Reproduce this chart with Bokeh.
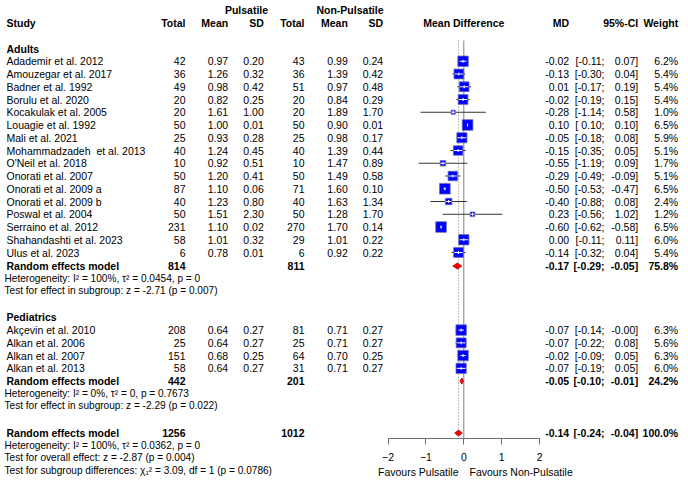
from math import sqrt

from bokeh.plotting import figure
from bokeh.layouts import row, column
from bokeh.models import Range1d, LinearAxis, FixedTicker
from bokeh.core.properties import value
from bokeh.embed import file_html
from bokeh.resources import INLINE

# ---- study data: adults ----
adult_names = ["Adademir et al. 2012", "Amouzegar et al. 2017", "Badner et al. 1992",
               "Borulu et al. 2020", "Kocakulak et al. 2005", "Louagie et al. 1992",
               "Mali et al. 2021", "Mohammadzadeh \u00a0et al. 2013", "O'Neil et al. 2018",
               "Onorati et al. 2007", "Onorati et al. 2009 a", "Onorati et al. 2009 b",
               "Poswal et al. 2004", "Serraino et al. 2012", "Shahandashti et al. 2023",
               "Ulus et al. 2023"]
adult_n_p = [42, 36, 49, 20, 20, 50, 25, 40, 10, 50, 87, 40, 50, 231, 58, 6]
adult_mean_p = [0.97, 1.26, 0.98, 0.82, 1.61, 1.00, 0.93, 1.24, 0.92, 1.20, 1.10, 1.23, 1.51, 1.10, 1.01, 0.78]
adult_sd_p = [0.20, 0.32, 0.42, 0.25, 1.00, 0.01, 0.28, 0.45, 0.51, 0.41, 0.06, 0.80, 2.30, 0.02, 0.32, 0.01]
adult_n_np = [43, 36, 51, 20, 20, 50, 25, 40, 10, 50, 71, 40, 50, 270, 29, 6]
adult_mean_np = [0.99, 1.39, 0.97, 0.84, 1.89, 0.90, 0.98, 1.39, 1.47, 1.49, 1.60, 1.63, 1.28, 1.70, 1.01, 0.92]
adult_sd_np = [0.24, 0.42, 0.48, 0.29, 1.70, 0.01, 0.17, 0.44, 0.89, 0.58, 0.10, 1.34, 1.70, 0.14, 0.22, 0.22]
adult_md = [-0.02, -0.13, 0.01, -0.02, -0.28, 0.10, -0.05, -0.15, -0.55, -0.29, -0.50, -0.40, 0.23, -0.60, 0.00, -0.14]
adult_lo = [-0.11, -0.30, -0.17, -0.19, -1.14, 0.10, -0.18, -0.35, -1.19, -0.49, -0.53, -0.88, -0.56, -0.62, -0.11, -0.32]
adult_hi = [0.07, 0.04, 0.19, 0.15, 0.58, 0.10, 0.08, 0.05, 0.09, -0.09, -0.47, 0.08, 1.02, -0.58, 0.11, 0.04]
adult_w = [6.2, 5.4, 5.4, 5.4, 1.0, 6.5, 5.9, 5.1, 1.7, 5.1, 6.5, 2.4, 1.2, 6.5, 6.0, 5.4]

# ---- study data: pediatrics ----
ped_names = ["Akçevin et al. 2010", "Alkan et al. 2006", "Alkan et al. 2007", "Alkan et al. 2013"]
ped_n_p = [208, 25, 151, 58]
ped_mean_p = [0.64, 0.64, 0.68, 0.64]
ped_sd_p = [0.27, 0.27, 0.25, 0.27]
ped_n_np = [81, 25, 64, 31]
ped_mean_np = [0.71, 0.71, 0.70, 0.71]
ped_sd_np = [0.27, 0.27, 0.25, 0.27]
ped_md = [-0.07, -0.07, -0.02, -0.07]
ped_lo = [-0.14, -0.22, -0.09, -0.19]
ped_hi = [-0.00, 0.08, 0.05, 0.05]
ped_w = [6.3, 5.6, 6.3, 6.0]

# ---- pooled estimates (random effects): adults, pediatrics, overall ----
pool_n_p = [814, 442, 1256]
pool_n_np = [811, 201, 1012]
pool_md = [-0.17, -0.05, -0.14]
pool_lo = [-0.29, -0.10, -0.24]
pool_hi = [-0.05, -0.01, -0.04]
pool_w = [75.8, 24.2, 100.0]

adult_het = "Heterogeneity: I² = 100%, τ² = 0.0454, p = 0"
adult_test = "Test for effect in subgroup: z = -2.71 (p = 0.007)"
ped_het = "Heterogeneity: I² = 0%, τ² = 0, p = 0.7673"
ped_test = "Test for effect in subgroup: z = -2.29 (p = 0.022)"
all_het = "Heterogeneity: I² = 100%, τ² = 0.0362, p = 0"
all_test = "Test for overall effect: z = -2.87 (p = 0.004)"
sub_test = "Test for subgroup differences: χ₁² = 3.09, df = 1 (p = 0.0786)"

axis_ticks = [-2, -1, 0, 1, 2]
favours = ["Favours Pulsatile", "Favours Non-Pulsatile"]

# ---- page geometry (pixel coordinates, y downwards) ----
W, H = 688, 482
SPLIT = 310            # left panel: study table + notes; right panel: the rest
FRAME_H = 438          # forest frame bottom = axis line
AXIS_H = 28
ZERO_PX = 463.3
PX_PER_MD = 37.9
FONT = "Liberation Sans"
FS = "10.5px"
FS_SMALL = "10.1px"
ROW = 12.75

# column anchors (right edges unless noted)
X_STUDY = 6
X_TOT_P, X_MEAN_P, X_SD_P = 185, 227.7, 263.3
X_TOT_NP, X_MEAN_NP, X_SD_NP = 304, 347.3, 382.7
X_MD, X_CI_L, X_CI_R, X_W = 568.7, 604, 637.7, 677.7

# row positions, top to bottom
Y_GROUP, Y_HEAD, Y_ADULTS = 9, 22, 48
y_adult = [Y_ADULTS + ROW * (i + 1) for i in range(len(adult_names))]
y_adult_pool = y_adult[-1] + ROW + 0.8
y_adult_het = y_adult_pool + 12.6
y_adult_test = y_adult_het + 11.9
Y_PEDS = y_adult_test + 26.8
y_ped = [Y_PEDS + ROW * (i + 1) for i in range(len(ped_names))]
y_ped_pool = y_ped[-1] + ROW
y_ped_het = y_ped_pool + 12.1
y_ped_test = y_ped_het + 11.9
y_all = y_ped_test + 28
y_all_het = y_all + 12
y_all_test = y_all_het + 12
y_sub = y_all_test + 13
y_pools = [y_adult_pool, y_ped_pool, y_all]
Y_FAVOURS = 471.7


def make_fig(x0, x1, y_top, y_bottom, height, border_bottom=0):
    f = figure(width=x1 - x0, height=height, output_backend="svg", toolbar_location=None,
               x_range=Range1d(x0, x1), y_range=Range1d(y_bottom, y_top),
               x_axis_location=None, y_axis_location=None,
               min_border_left=0, min_border_right=0, min_border_top=0,
               min_border_bottom=border_bottom)
    f.xgrid.visible = False
    f.ygrid.visible = False
    f.outline_line_color = None
    f.background_fill_color = "white"
    f.border_fill_color = "white"
    return f


left = make_fig(0, SPLIT, 0, H, H)
right = make_fig(SPLIT, W, 0, FRAME_H, FRAME_H + AXIS_H, border_bottom=AXIS_H)
bottom = make_fig(SPLIT, W, FRAME_H + AXIS_H, H, H - FRAME_H - AXIS_H)
right.extra_x_ranges = {"md": Range1d((SPLIT - ZERO_PX) / PX_PER_MD, (W - ZERO_PX) / PX_PER_MD)}


def put(f, xs, ys, texts, align="left", bold=False, size=FS):
    f.text(x=list(xs), y=list(ys), text=list(texts), text_align=align,
           text_baseline="middle", text_font=value(FONT), text_font_size=size,
           text_font_style="bold" if bold else "normal", text_color="black")


def f2(v):
    return f"{v:.2f}"


# ---- headers ----
put(left, [246], [Y_GROUP], ["Pulsatile"], align="center", bold=True)
put(right, [349.5], [Y_GROUP], ["Non-Pulsatile"], align="center", bold=True)
put(left, [X_STUDY], [Y_HEAD], ["Study"], bold=True)
put(left, [X_TOT_P, X_MEAN_P, X_SD_P, X_TOT_NP], [Y_HEAD] * 4, ["Total", "Mean", "SD", "Total"],
    align="right", bold=True)
put(right, [X_MEAN_NP, X_SD_NP, X_MD, X_CI_R, X_W], [Y_HEAD] * 5,
    ["Mean", "SD", "MD", "95%-CI", "Weight"], align="right", bold=True)
put(right, [ZERO_PX], [Y_HEAD], ["Mean Difference"], align="center", bold=True)
put(left, [X_STUDY, X_STUDY], [Y_ADULTS, Y_PEDS], ["Adults", "Pediatrics"], bold=True)

# ---- study rows ----
names = adult_names + ped_names
ys = y_adult + y_ped
n_p = adult_n_p + ped_n_p
mean_p = adult_mean_p + ped_mean_p
sd_p = adult_sd_p + ped_sd_p
n_np = adult_n_np + ped_n_np
mean_np = adult_mean_np + ped_mean_np
sd_np = adult_sd_np + ped_sd_np
md = adult_md + ped_md
lo = adult_lo + ped_lo
hi = adult_hi + ped_hi
wt = adult_w + ped_w

put(left, [X_STUDY] * len(ys), ys, names)
for f, xcol, vals in [(left, X_TOT_P, [str(v) for v in n_p]),
                      (left, X_MEAN_P, list(map(f2, mean_p))),
                      (left, X_SD_P, list(map(f2, sd_p))),
                      (left, X_TOT_NP, [str(v) for v in n_np]),
                      (right, X_MEAN_NP, list(map(f2, mean_np))),
                      (right, X_SD_NP, list(map(f2, sd_np))),
                      (right, X_MD, list(map(f2, md))),
                      (right, X_CI_L, [f"[{v:5.2f};" for v in lo]),
                      (right, X_CI_R, [f"{v:.2f}]" for v in hi]),
                      (right, X_W, [f"{v:.1f}%" for v in wt])]:
    put(f, [xcol] * len(ys), ys, vals, align="right")

# ---- pooled rows ----
put(left, [X_STUDY] * 3, y_pools, ["Random effects model"] * 3, bold=True)
put(left, [X_TOT_P] * 3, y_pools, [str(v) for v in pool_n_p], align="right", bold=True)
put(left, [X_TOT_NP] * 3, y_pools, [str(v) for v in pool_n_np], align="right", bold=True)
put(right, [X_MD] * 3, y_pools, list(map(f2, pool_md)), align="right", bold=True)
put(right, [X_CI_L] * 3, y_pools, [f"[{v:5.2f};" for v in pool_lo], align="right", bold=True)
put(right, [X_CI_R] * 3, y_pools, [f"{v:.2f}]" for v in pool_hi], align="right", bold=True)
put(right, [X_W] * 3, y_pools, [f"{v:.1f}%" for v in pool_w], align="right", bold=True)

# ---- heterogeneity / test notes ----
put(left, [4] * 7,
    [y_adult_het, y_adult_test, y_ped_het, y_ped_test, y_all_het, y_all_test, y_sub],
    [adult_het, adult_test, ped_het, ped_test, all_het, all_test, sub_test], size=FS_SMALL)

# ---- forest: reference lines ----
right.segment(x0=[0], x1=[0], y0=[40], y1=[FRAME_H], x_range_name="md",
              line_color="#808080", line_width=1)
right.segment(x0=[pool_md[2]], x1=[pool_md[2]], y0=[40], y1=[y_all - 3], x_range_name="md",
              line_color="#808080", line_width=1, line_dash="1 2")

# ---- forest: study CIs and squares (side ~ sqrt(weight)) ----
side = [4.2 * sqrt(v) for v in wt]
right.segment(x0=lo, x1=hi, y0=ys, y1=ys, x_range_name="md", line_color="#333333", line_width=1)
right.scatter(x=md, y=ys, size=side, marker="square", x_range_name="md",
              fill_color="#0000FF", line_color="#7070b8", line_width=0.8)
half = [s / 2 / PX_PER_MD * 0.85 for s in side]
in_lo = [max(a, m - h) for a, m, h in zip(lo, md, half)]
in_hi = [min(b, m + h) for b, m, h in zip(hi, md, half)]
right.segment(x0=in_lo, x1=in_hi, y0=ys, y1=ys, x_range_name="md", line_color="white", line_width=1)
right.segment(x0=md, x1=md, y0=[y - 1.5 for y in ys], y1=[y + 1.5 for y in ys],
              x_range_name="md", line_color="white", line_width=1)

# ---- forest: pooled diamonds ----
right.patches(xs=[[a, m, b, m] for a, m, b in zip(pool_lo, pool_md, pool_hi)],
              ys=[[y, y - 3, y, y + 3] for y in y_pools], x_range_name="md",
              fill_color="#FF0000", line_color="#b00000", line_width=0.8)

# ---- axis ----
ax = LinearAxis(x_range_name="md", ticker=FixedTicker(ticks=axis_ticks),
                bounds=(axis_ticks[0], axis_ticks[-1]))
ax.axis_line_color = "#707070"
ax.major_tick_line_color = "#707070"
ax.major_tick_in = 0
ax.major_tick_out = 6
ax.minor_tick_in = 0
ax.minor_tick_out = 0
ax.major_label_standoff = 8
ax.major_label_text_font = FONT
ax.major_label_text_font_size = FS
ax.major_label_text_color = "black"
right.add_layout(ax, "below")

# ---- axis captions on either side of zero ----
put(bottom, [ZERO_PX - 5.3], [Y_FAVOURS], [favours[0]], align="right")
put(bottom, [ZERO_PX + 5.7], [Y_FAVOURS], [favours[1]], align="left")

layout = row(left, column(right, bottom, spacing=0), spacing=0)
open("out.html", "w").write(file_html(layout, INLINE))
